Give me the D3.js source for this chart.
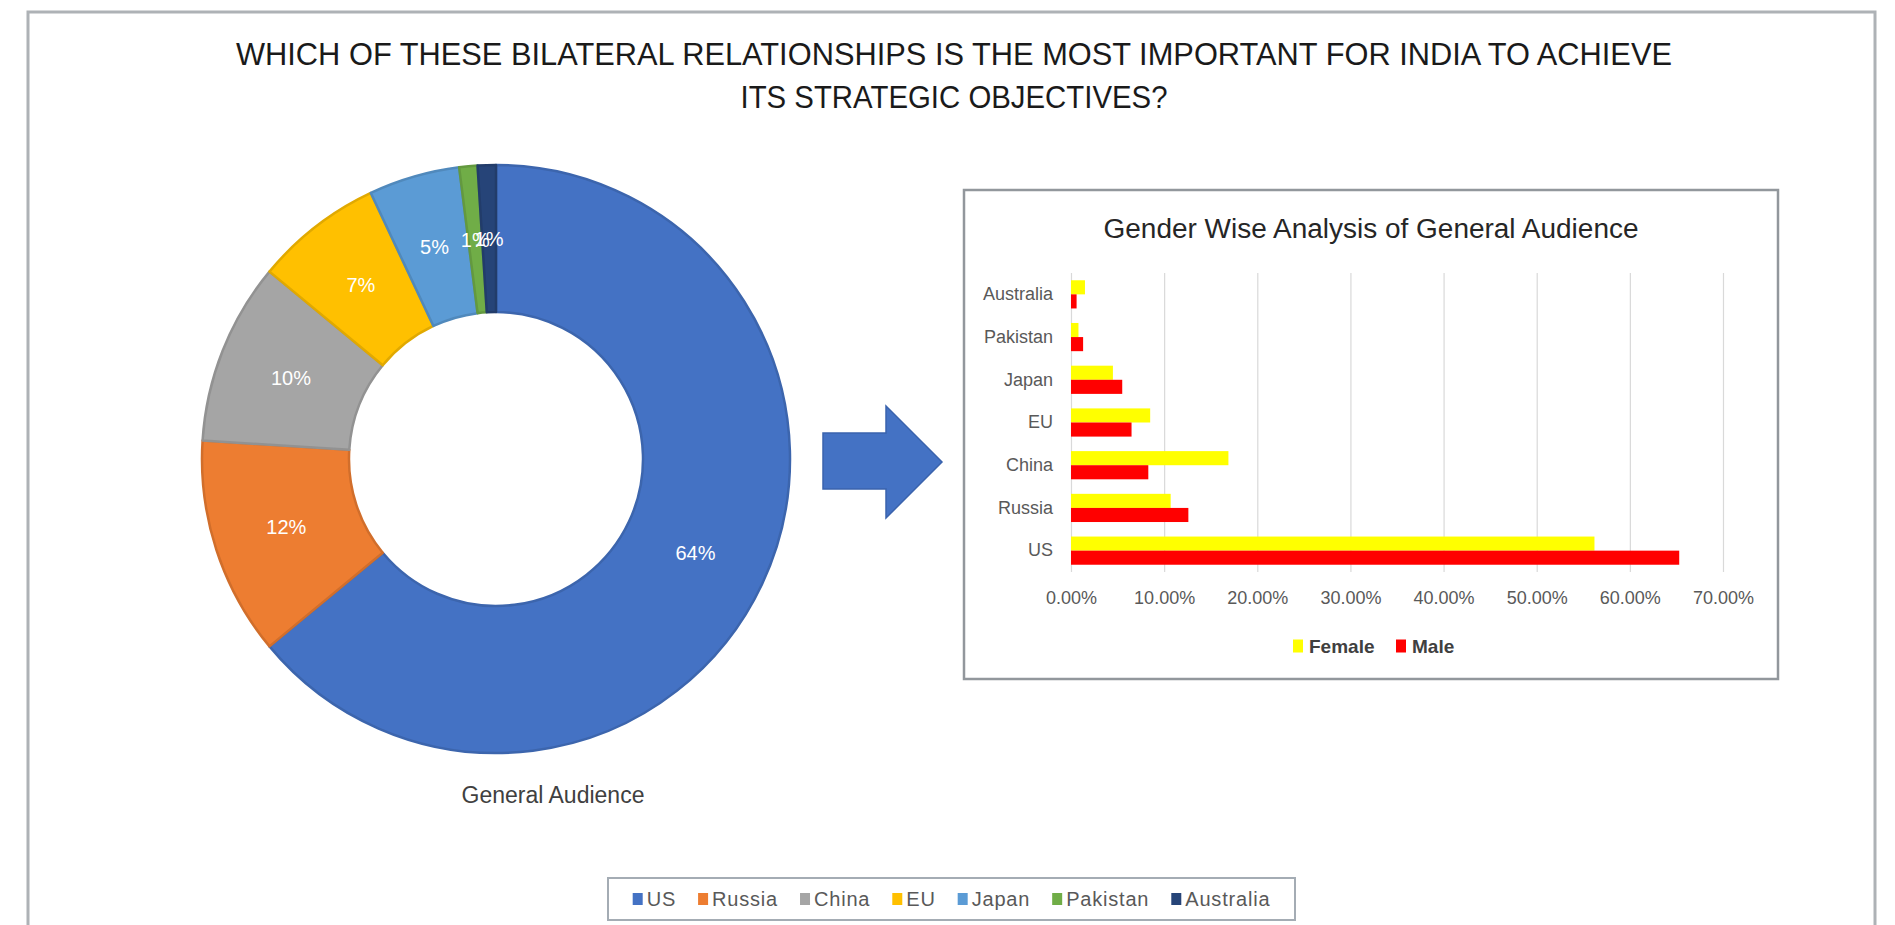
<!DOCTYPE html>
<html>
<head>
<meta charset="utf-8">
<script src="https://cdn.jsdelivr.net/npm/d3@7"></script>
<style>
  html, body { margin: 0; padding: 0; background: #ffffff; overflow: hidden; }
  svg { display: block; font-family: "Liberation Sans", Arial, sans-serif; }
</style>
</head>
<body>
<svg id="chart" width="1895" height="925"></svg>
<script>
// ---- Survey data ----
const countries = ["US", "Russia", "China", "EU", "Japan", "Pakistan", "Australia"];
const shares = [64, 12, 10, 7, 5, 1, 1];                       // % of general audience
const countryColors = ["#4472c4", "#ed7d31", "#a5a5a5", "#ffc000", "#5b9bd5", "#70ad47", "#264478"];

const barCategories = ["US", "Russia", "China", "EU", "Japan", "Pakistan", "Australia"];
const femaleValues = [0.562, 0.107, 0.169, 0.085, 0.045, 0.008, 0.015];
const maleValues   = [0.653, 0.126, 0.083, 0.065, 0.055, 0.013, 0.006];
const genders = ["Female", "Male"];
const genderColors = ["#ffff00", "#ff0000"];
const xTicks = [0, 0.1, 0.2, 0.3, 0.4, 0.5, 0.6, 0.7];

const titleLines = [
  "WHICH OF THESE BILATERAL RELATIONSHIPS IS THE MOST IMPORTANT FOR INDIA TO ACHIEVE",
  "ITS STRATEGIC OBJECTIVES?"
];
const donutTitle = "General Audience";
const barTitle = "Gender Wise Analysis of General Audience";

// ---- Layout ----
const svg = d3.select("#chart");

// outer frame
svg.append("rect")
  .attr("x", 28).attr("y", 12).attr("width", 1847).attr("height", 940)
  .attr("fill", "#ffffff").attr("stroke", "#aeb2b6").attr("stroke-width", 3);

// main title
const titleSpec = [{ y: 65, len: 1436 }, { y: 108, len: 427 }];
svg.append("g").selectAll("text").data(titleLines).join("text")
  .attr("x", 954).attr("y", (d, i) => titleSpec[i].y)
  .attr("text-anchor", "middle")
  .attr("font-family", "'Liberation Sans Narrow', 'Liberation Sans', Arial, sans-serif")
  .attr("font-size", 31)
  .attr("fill", "#1a1a1a")
  .attr("textLength", (d, i) => titleSpec[i].len)
  .attr("lengthAdjust", "spacingAndGlyphs")
  .text(d => d);

// ---- Donut ----
const donut = { cx: 496, cy: 459, outer: 294, inner: 147 };
const color = d3.scaleOrdinal().domain(countries).range(countryColors);
const pie = d3.pie().sort(null).value(d => d.value).startAngle(0).endAngle(2 * Math.PI);
const arc = d3.arc().innerRadius(donut.inner).outerRadius(donut.outer);
const pieData = pie(countries.map((c, i) => ({ name: c, value: shares[i] })));

const gDonut = svg.append("g").attr("transform", `translate(${donut.cx},${donut.cy})`);
gDonut.selectAll("path").data(pieData).join("path")
  .attr("d", arc)
  .attr("fill", d => color(d.data.name))
  .attr("stroke", d => d3.color(color(d.data.name)).darker(0.35))
  .attr("stroke-width", 2.5)
  .attr("stroke-linejoin", "round");

const total = d3.sum(shares);
gDonut.selectAll("text").data(pieData).join("text")
  .attr("transform", d => `translate(${arc.centroid(d)})`)
  .attr("text-anchor", "middle")
  .attr("dy", "0.36em")
  .attr("font-size", 20)
  .attr("fill", "#ffffff")
  .text(d => Math.round(d.data.value / total * 100) + "%");

svg.append("text")
  .attr("x", 553).attr("y", 803)
  .attr("text-anchor", "middle")
  .attr("font-size", 23)
  .attr("fill", "#404040")
  .text(donutTitle);

// bottom legend for the donut
const legendBox = { x: 608, y: 878, w: 687, h: 42 };
svg.append("rect")
  .attr("x", legendBox.x).attr("y", legendBox.y)
  .attr("width", legendBox.w).attr("height", legendBox.h)
  .attr("fill", "#ffffff").attr("stroke", "#a4acb4").attr("stroke-width", 2);
const gLeg = svg.append("g");
const legItems = gLeg.selectAll("g").data(countries).join("g");
legItems.append("rect")
  .attr("width", 10).attr("height", 12).attr("y", -6)
  .attr("fill", d => color(d));
legItems.append("text")
  .attr("x", 14).attr("dy", "0.36em")
  .attr("font-size", 20).attr("letter-spacing", 0.8)
  .attr("fill", "#595959")
  .text(d => d);
let cursor = 0;
const legWidths = [];
legItems.each(function () {
  const w = 14 + this.querySelector("text").getComputedTextLength();
  legWidths.push(w);
});
const legGap = 22;
const legTotal = d3.sum(legWidths) + legGap * (legWidths.length - 1);
cursor = legendBox.x + (legendBox.w - legTotal) / 2;
legItems.attr("transform", (d, i) => {
  const x = cursor;
  cursor += legWidths[i] + legGap;
  return `translate(${x},${legendBox.y + legendBox.h / 2})`;
});

// ---- Arrow ----
const arrow = { x: 823, y: 406, w: 119, h: 112, shaftTop: 27, shaftBottom: 83, headX: 63 };
const arrowPts = [
  [arrow.x, arrow.y + arrow.shaftTop],
  [arrow.x + arrow.headX, arrow.y + arrow.shaftTop],
  [arrow.x + arrow.headX, arrow.y],
  [arrow.x + arrow.w, arrow.y + arrow.h / 2],
  [arrow.x + arrow.headX, arrow.y + arrow.h],
  [arrow.x + arrow.headX, arrow.y + arrow.shaftBottom],
  [arrow.x, arrow.y + arrow.shaftBottom]
];
svg.append("path")
  .attr("d", d3.line()(arrowPts) + "Z")
  .attr("fill", "#4472c4").attr("stroke", "#3a63ad").attr("stroke-width", 1.5);

// ---- Gender bar chart ----
const box = { x: 964, y: 190, w: 814, h: 489 };
svg.append("rect")
  .attr("x", box.x).attr("y", box.y).attr("width", box.w).attr("height", box.h)
  .attr("fill", "#ffffff").attr("stroke", "#92979c").attr("stroke-width", 2.5);

svg.append("text")
  .attr("x", 1371).attr("y", 238)
  .attr("text-anchor", "middle")
  .attr("font-size", 27)
  .attr("fill", "#262626")
  .attr("textLength", 535).attr("lengthAdjust", "spacingAndGlyphs")
  .text(barTitle);

const plot = { left: 1071, right: 1723, top: 273, bottom: 572 };
const x = d3.scaleLinear().domain([0, 0.7]).range([plot.left, plot.right]);
const y = d3.scaleBand().domain(barCategories.slice().reverse())
  .range([plot.top, plot.bottom]).paddingInner(0.34).paddingOuter(0.17);
const ySub = d3.scaleBand().domain(genders).range([0, y.bandwidth()]);

// gridlines
svg.append("g")
  .attr("transform", `translate(0,${plot.bottom})`)
  .call(d3.axisBottom(x).tickValues(xTicks).tickSize(-(plot.bottom - plot.top)).tickFormat(""))
  .call(g => g.select(".domain").remove())
  .call(g => g.selectAll("line").attr("stroke", "#d9d9d9").attr("stroke-width", 1.2));

// bars
const rows = barCategories.map((c, i) => ({ cat: c, vals: [femaleValues[i], maleValues[i]] }));
const gBars = svg.append("g");
gBars.selectAll("g").data(rows).join("g")
  .attr("transform", d => `translate(0,${y(d.cat)})`)
  .selectAll("rect").data(d => d.vals.map((v, j) => ({ g: genders[j], v })))
  .join("rect")
  .attr("x", x(0))
  .attr("y", d => ySub(d.g))
  .attr("width", d => x(d.v) - x(0))
  .attr("height", ySub.bandwidth())
  .attr("fill", (d, j) => genderColors[genders.indexOf(d.g)]);

// x axis labels
svg.append("g")
  .attr("transform", `translate(0,${plot.bottom})`)
  .call(d3.axisBottom(x).tickValues(xTicks).tickSize(0).tickPadding(19).tickFormat(d3.format(".2%")))
  .call(g => g.select(".domain").remove())
  .call(g => g.selectAll("text")
    .attr("font-family", "'Liberation Sans', Arial, sans-serif")
    .attr("font-size", 18).attr("fill", "#595959"));

// y axis labels
svg.append("g")
  .attr("transform", `translate(${plot.left},0)`)
  .call(d3.axisLeft(y).tickSize(0).tickPadding(18))
  .call(g => g.select(".domain").remove())
  .call(g => g.selectAll("text")
    .attr("font-family", "'Liberation Sans', Arial, sans-serif")
    .attr("font-size", 18).attr("fill", "#595959"));

// gender legend
const gGl = svg.append("g").attr("transform", "translate(1293,646)");
const gItems = gGl.selectAll("g").data(genders).join("g")
  .attr("transform", (d, i) => `translate(${i * 103},0)`);
gItems.append("rect").attr("width", 10).attr("height", 13).attr("y", -6.5)
  .attr("fill", (d, i) => genderColors[i]);
gItems.append("text").attr("x", 16).attr("dy", "0.36em")
  .attr("font-size", 19).attr("font-weight", "bold").attr("fill", "#404040")
  .text(d => d);
</script>
</body>
</html>
